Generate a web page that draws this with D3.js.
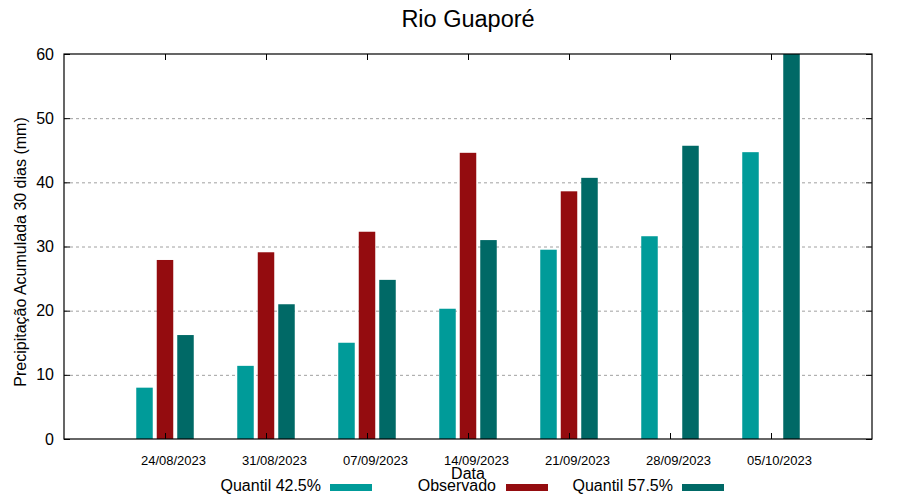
<!DOCTYPE html>
<html>
<head>
<meta charset="utf-8">
<script src="https://cdn.jsdelivr.net/npm/d3@7"></script>
<style>
  body { margin: 0; background: #fff; }
  svg { font-family: "Liberation Sans", Arial, sans-serif; }
</style>
</head>
<body>
<svg id="chart" width="900" height="500"></svg>
<script>
const categories = ["24/08/2023", "31/08/2023", "07/09/2023", "14/09/2023", "21/09/2023", "28/09/2023", "05/10/2023"];
const quantil425 = [8.0, 11.4, 15.0, 20.3, 29.5, 31.6, 44.7];
const observado = [27.9, 29.1, 32.3, 44.6, 38.6, null, null];
const quantil575 = [16.2, 21.0, 24.8, 31.0, 40.7, 45.7, 60.0];
const yTicks = [0, 10, 20, 30, 40, 50, 60];
const seriesNames = ["Quantil 42.5%", "Observado", "Quantil 57.5%"];
const seriesColors = ["#009b99", "#940c0f", "#006966"];

const svg = d3.select("#chart");
const pLeft = 64, pRight = 872, pTop = 54, pBottom = 439;

const x = d3.scaleLinear().domain([0, categories.length + 1]).range([pLeft, pRight]);
const y = d3.scaleLinear().domain([0, 60]).range([pBottom, pTop]);

// grid
svg.append("g").selectAll("line").data(yTicks.filter(t => t > 0 && t < 60)).join("line")
  .attr("x1", pLeft).attr("x2", pRight)
  .attr("y1", d => y(d) + 0.5).attr("y2", d => y(d) + 0.5)
  .attr("stroke", "#a0a0a0").attr("stroke-width", 1)
  .attr("stroke-dasharray", "3,3");

// bars
const series = [quantil425, observado, quantil575];
const offsets = [-20.5, 0, 20.5];
const bw = 16.5;
series.forEach((vals, si) => {
  svg.append("g").selectAll("rect")
    .data(vals.map((v, i) => ({ v, i })).filter(d => d.v != null))
    .join("rect")
    .attr("x", d => x(d.i + 1) + offsets[si] - bw / 2)
    .attr("width", bw)
    .attr("y", d => y(Math.min(d.v, 60)))
    .attr("height", d => y(0) - y(Math.min(d.v, 60)))
    .attr("fill", seriesColors[si]);
});

// axes (gnuplot style: ticks inward)
const yAxisL = d3.axisLeft(y).tickValues(yTicks).tickSize(-6).tickPadding(10);
svg.append("g").attr("transform", `translate(${pLeft},0)`).call(yAxisL)
  .call(g => g.select(".domain").remove())
  .call(g => g.selectAll("text").attr("font-size", 16).attr("fill", "#000").attr("font-family", "Liberation Sans, Arial, sans-serif"));
const yAxisR = d3.axisRight(y).tickValues(yTicks).tickSize(-6).tickFormat("");
svg.append("g").attr("transform", `translate(${pRight},0)`).call(yAxisR)
  .call(g => g.select(".domain").remove());

const tickPos = d3.range(1, categories.length + 1);
const xAxisB = d3.axisBottom(x).tickValues(tickPos).tickSize(-6).tickFormat("");
svg.append("g").attr("transform", `translate(0,${pBottom})`).call(xAxisB)
  .call(g => g.select(".domain").remove());
const xAxisT = d3.axisTop(x).tickValues(tickPos).tickSize(-6).tickFormat("");
svg.append("g").attr("transform", `translate(0,${pTop})`).call(xAxisT)
  .call(g => g.select(".domain").remove());

// x labels
svg.append("g").selectAll("text").data(categories).join("text")
  .attr("x", (d, i) => x(i + 1) + 8.5)
  .attr("y", 465)
  .attr("text-anchor", "middle")
  .attr("font-size", 13)
  .text(d => d);

// frame
svg.append("rect").attr("x", pLeft).attr("y", pTop)
  .attr("width", pRight - pLeft).attr("height", pBottom - pTop)
  .attr("fill", "none").attr("stroke", "#000").attr("stroke-width", 1.2);

// title
svg.append("text").attr("x", 468).attr("y", 27).attr("text-anchor", "middle")
  .attr("font-size", 23.5).text("Rio Guaporé");

// axis titles (overlaps the middle tick label, as in the reference)
svg.append("text").attr("x", 468).attr("y", 479).attr("text-anchor", "middle")
  .attr("font-size", 16).text("Data");
svg.append("text").attr("transform", "translate(26,252) rotate(-90)")
  .attr("text-anchor", "middle").attr("font-size", 16)
  .text("Precipitação Acumulada 30 dias (mm)");

// legend
const legendTextEnd = [321, 496, 673];
const legendSwatch = [330, 506, 682];
seriesNames.forEach((name, i) => {
  svg.append("text").attr("x", legendTextEnd[i]).attr("y", 491)
    .attr("text-anchor", "end").attr("font-size", 16).text(name);
  svg.append("rect").attr("x", legendSwatch[i]).attr("y", 484)
    .attr("width", 42).attr("height", 7).attr("fill", seriesColors[i]);
});
</script>
</body>
</html>
